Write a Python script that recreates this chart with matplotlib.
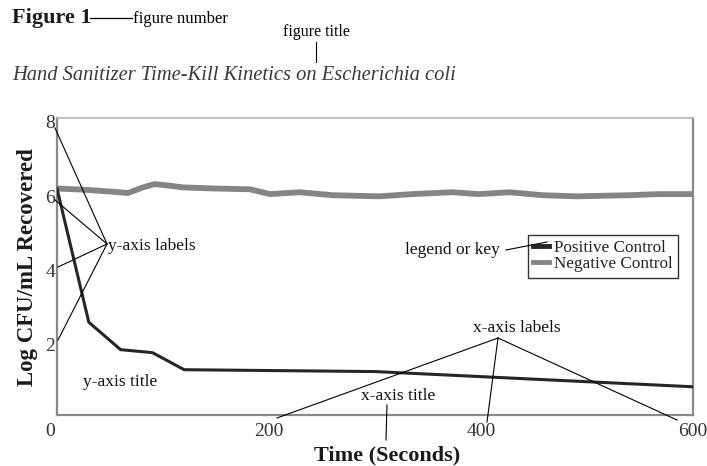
import matplotlib
matplotlib.use('Agg')
import matplotlib.pyplot as plt
import matplotlib.transforms as mtransforms
from matplotlib.lines import Line2D

# ---- data ----
time_positive = [0, 30, 60, 90, 120, 300, 600]
log_cfu_positive = [6.1, 2.5, 1.76, 1.68, 1.22, 1.17, 0.76]

time_negative = [0, 25, 50, 67, 80, 92, 105, 119, 150, 182, 201, 229, 260,
                 304, 335, 373, 398, 427, 458, 490, 540, 568, 600]
log_cfu_negative = [6.1, 6.07, 6.02, 5.98, 6.12, 6.22, 6.18, 6.13, 6.1, 6.08,
                    5.95, 6.0, 5.92, 5.89, 5.95, 6.0, 5.95, 6.0, 5.92, 5.89,
                    5.92, 5.95, 5.95]

x_ticks = [200, 400, 600]
y_ticks = [2, 4, 6, 8]
series_labels = ['Positive Control', 'Negative Control']

plt.rcParams['font.family'] = ['Liberation Serif', 'DejaVu Serif']

W, H = 707, 466
fig = plt.figure(figsize=(W / 100, H / 100), dpi=100)
ax = fig.add_axes([57 / W, 1 - 415 / H, 636 / W, 297 / H])

neg_color = '#858585'
pos_color = '#262626'
ax.plot(time_negative, log_cfu_negative, color=neg_color, lw=4.2, zorder=2)
ax.plot(time_positive, log_cfu_positive, color=pos_color, lw=2.2, zorder=3)

ax.set_xlim(0, 600)
ax.set_ylim(0, 8)
ax.set_xticks(x_ticks)
ax.set_xticklabels([str(v) for v in x_ticks])
ax.set_yticks(y_ticks)
ax.set_yticklabels([str(v) for v in y_ticks])
ax.tick_params(axis='both', length=0, labelsize=14, colors='#333333')
ax.tick_params(axis='y', pad=1.5)
ax.tick_params(axis='x', pad=5.5)
shift = mtransforms.ScaledTranslation(0, -0.04, fig.dpi_scale_trans)
for lab in ax.get_yticklabels():
    lab.set_transform(lab.get_transform() + shift)

for side in ['left', 'bottom', 'right']:
    ax.spines[side].set_color('#8a8a8a')
    ax.spines[side].set_linewidth(1.6)
ax.spines['top'].set_color('#b5b5b5')
ax.spines['top'].set_linewidth(1.2)

# legend
handles = [Line2D([], [], color=pos_color, lw=3.5),
           Line2D([], [], color=neg_color, lw=3.5)]
leg = ax.legend(handles, series_labels, loc='upper left',
                bbox_to_anchor=(528 / W, 1 - 235 / H), bbox_transform=fig.transFigure,
                borderaxespad=0, fancybox=False, framealpha=1, edgecolor='#333333',
                fontsize=12.3, handlelength=0.9, handletextpad=0.3,
                borderpad=0.3, labelspacing=0.02)
leg.get_frame().set_linewidth(1.0)
for t in leg.get_texts():
    t.set_color('#222222')

# ---- helpers for annotation text and pointer lines (pixel positions) ----
def ftext(x, y, s, **kw):
    fig.text(x / W, 1 - y / H, s, **kw)

def pline(x0, y0, x1, y1, lw=0.8):
    fig.add_artist(Line2D([x0 / 100, x1 / 100], [(H - y0) / 100, (H - y1) / 100],
                          transform=fig.dpi_scale_trans, color='black', lw=lw))

# "0" corner label
ftext(50, 432, '0', fontsize=14, color='#333333', ha='center', va='center')

# axis titles
ftext(28, 267, 'Log CFU/mL Recovered', fontsize=16.5, fontweight='bold',
      rotation=90, ha='center', va='center', color='#1a1a1a')
ftext(387, 455, 'Time (Seconds)', fontsize=16, fontweight='bold',
      ha='center', va='center', color='#1a1a1a')

# header
ftext(12, 18, 'Figure 1', fontsize=16, fontweight='bold', ha='left', va='center',
      color='#1a1a1a')
pline(90, 18, 132, 18, lw=0.9)
ftext(133, 19, 'figure number', fontsize=12, ha='left', va='center')
ftext(316, 32, 'figure title', fontsize=11.5, ha='center', va='center')
pline(316, 42, 316, 62)
ftext(12, 75, 'Hand Sanitizer Time-Kill Kinetics on Escherichia coli', fontsize=14.8,
      fontstyle='italic', ha='left', va='center', color='#3a3a3a')

# annotation labels
ann = dict(fontsize=12.5, va='center', color='#111111')
ftext(108, 246, 'y-axis labels', ha='left', **ann)
for (xe, ye) in [(55, 128), (55, 200), (58, 267), (58, 340)]:
    pline(107, 244, xe, ye)
ftext(83, 382, 'y-axis title', ha='left', **ann)
ftext(398, 396, 'x-axis title', ha='center', **ann)
pline(387, 405, 386, 440)
ftext(473, 328, 'x-axis labels', ha='left', **ann)
for (xe, ye) in [(277, 418), (487, 422), (677, 420)]:
    pline(498, 338, xe, ye)
ftext(405, 250, 'legend or key', ha='left', **ann)
pline(506, 250, 547, 242)

fig.savefig('out.png', dpi=100)
